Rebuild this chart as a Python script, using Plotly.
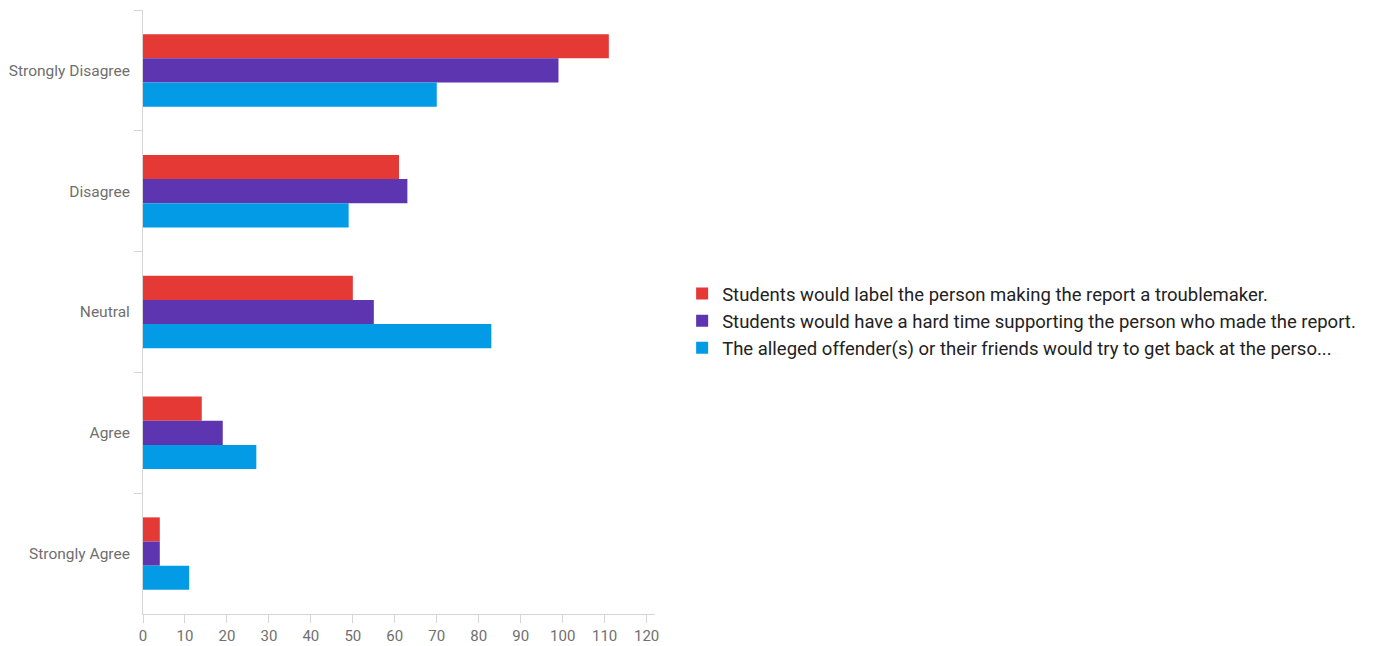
import plotly.graph_objects as go

categories = ["Strongly Disagree", "Disagree", "Neutral", "Agree", "Strongly Agree"]
series_names = [
    "Students would label the person making the report a troublemaker.",
    "Students would have a hard time supporting the person who made the report.",
    "The alleged offender(s) or their friends would try to get back at the perso...",
]
troublemaker = [111, 61, 50, 14, 4]
hard_time = [99, 63, 55, 19, 4]
get_back = [70, 49, 83, 27, 11]
colors = ["#E53935", "#5E35B1", "#039BE5"]

fig = go.Figure()
for name, vals, col in zip(series_names, [troublemaker, hard_time, get_back], colors):
    fig.add_trace(go.Bar(
        y=categories, x=vals, name=name, orientation="h",
        marker=dict(color=col, line=dict(width=0)),
    ))

fig.update_layout(
    width=1387, height=646,
    barmode="group", bargap=0.4, bargroupgap=0,
    plot_bgcolor="white", paper_bgcolor="white",
    margin=dict(l=143, r=732, t=10, b=32, autoexpand=False),
    font=dict(family="Roboto, sans-serif", color="#6f6f6f", size=15),
    legend=dict(
        x=1.053, xanchor="left", y=0.485, yanchor="middle",
        traceorder="normal",
        font=dict(size=18.5, color="#222222", family="Roboto, sans-serif"),
        tracegroupgap=0, itemwidth=30,
    ),
)
fig.update_yaxes(
    autorange="reversed", showgrid=False, showline=True, linecolor="#d6d6d6", linewidth=1,
    ticks="outside", tickson="boundaries", ticklen=8, tickcolor="#d6d6d6",
    tickfont=dict(size=15.5, color="#6f6f6f"), ticklabelstandoff=9,
)
fig.update_xaxes(
    range=[0, 122], tickvals=list(range(0, 121, 10)), showgrid=False, zeroline=False,
    showline=True, linecolor="#d6d6d6", linewidth=1,
    ticks="outside", ticklen=8, tickcolor="#d6d6d6",
    tickfont=dict(size=15, color="#6f6f6f"),
)

fig.write_html(
    "out.html",
    config={"displayModeBar": False},
    post_script="document.body.style.margin='0';document.body.style.padding='0';",
)
